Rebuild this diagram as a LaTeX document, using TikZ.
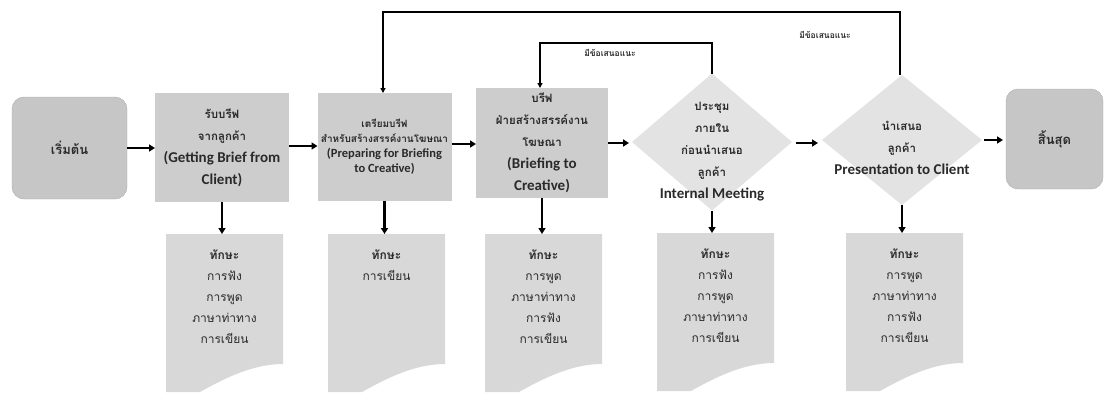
\documentclass[tikz,border=0pt]{standalone}
\usepackage{fontspec}
\setmainfont{Carlito}
\newfontfamily\thai[Script=Thai]{Loma}
\newfontfamily\latin{Carlito}
\usetikzlibrary{shapes.geometric,arrows.meta,calc}
\definecolor{termgray}{HTML}{C6C6C6}
\definecolor{procgray}{HTML}{CDCDCD}
\definecolor{decgray}{HTML}{E3E3E3}
\definecolor{docgray}{HTML}{D8D8D8}
\definecolor{textgray}{HTML}{2A2A2A}
\newcommand\drawdoc[1]{%
  \path (#1.north west) coordinate (#1nw) (#1.north east) coordinate (#1ne)
        (#1.south east) coordinate (#1se) (#1.south west) coordinate (#1sw);
  \fill[docgray] (#1nw) -- (#1ne) -- ($(#1se)+(0,-28)$)
    .. controls ($(#1se)+(-30,-28)$) and ($(#1se)+(-58,-14)$)
    .. ($(#1sw)+(34,0)$) -- (#1sw) -- cycle;}
\newcommand\en[1]{{\latin\bfseries\fontsize{15}{22}\selectfont #1}}
\newcommand\ens[1]{{\latin\bfseries\fontsize{12.5}{15}\selectfont #1}}
\begin{document}
\begin{tikzpicture}[x=1pt,y=-1pt,
  every node/.style={inner sep=0pt, outer sep=0pt},
  termbox/.style={rectangle, rounded corners=12pt, fill=termgray, draw=termgray!88!black, line width=0.4pt},
  procbox/.style={rectangle, fill=procgray},
  decbox/.style={diamond, fill=decgray},
  docbox/.style={rectangle, minimum width=117pt, minimum height=158pt},
  txt/.style={align=center, font=\fontsize{11.5}{22}\selectfont\bfseries\thai, text=textgray},
  termtxt/.style={align=center, font=\fontsize{13}{22}\selectfont\bfseries\thai, text=textgray},
  smalltxt/.style={align=center, font=\fontsize{10}{15}\selectfont\bfseries\thai, text=textgray},
  doctxt/.style={align=center, font=\fontsize{12}{21}\selectfont\thai, text=textgray},
  lbl/.style={font=\fontsize{8.5}{11}\selectfont\bfseries\thai, text=textgray},
  flow/.style={-{Triangle[length=6pt,width=7pt]}, line width=2.4pt},
  loopline/.style={-{Triangle[length=5pt,width=5pt]}, line width=1.3pt},
]
\useasboundingbox (0,0) rectangle (1113,394);

% main flow nodes
\node[termbox, minimum width=115pt, minimum height=102pt] (start) at (69.5,148) {};
\node[termtxt] (startt) at (start) {เริ่มต้น};

\node[procbox, minimum width=134pt, minimum height=109pt] (b1) at (222,147.5) {};
\node[txt] (b1t) at (b1) {รับบรีฟ\\จากลูกค้า\\\en{(Getting Brief from}\\\en{Client)}};

\node[procbox, minimum width=134pt, minimum height=108pt] (b2) at (384.5,147) {};
\node[smalltxt] (b2t) at (b2) {เตรียมบรีฟ\\สำหรับสร้างสรรค์งานโฆษณา\\\ens{(Preparing for Briefing}\\\ens{to Creative)}};

\node[procbox, minimum width=132pt, minimum height=110pt] (b3) at (542,143) {};
\node[txt] (b3t) at (b3) {บรีฟ\\ฝ่ายสร้างสรรค์งาน\\โฆษณา\\\en{(Briefing to}\\\en{Creative)}};

\node[decbox, minimum width=160pt, minimum height=137pt] (d1) at (712,142) {};
\node[txt] (d1t) at (712,152) {ประชุม\\ภายใน\\ก่อนนำเสนอ\\ลูกค้า\\\en{Internal Meeting}};

\node[decbox, minimum width=160pt, minimum height=130pt] (d2) at (902,140) {};
\node[txt] (d2t) at (902,148) {นำเสนอ\\ลูกค้า\\\en{Presentation to Client}};

\node[termbox, minimum width=97pt, minimum height=100pt] (end) at (1054.5,139) {};
\node[termtxt] (endt) at (end) {สิ้นสุด};

% documents
\node[docbox] (doc1) at (224.5,313) {};
\node[docbox] (doc2) at (386.5,313) {};
\node[docbox] (doc3) at (543.5,313) {};
\node[docbox] (doc4) at (715.5,312) {};
\node[docbox] (doc5) at (904.5,312) {};
\drawdoc{doc1}\drawdoc{doc2}\drawdoc{doc3}\drawdoc{doc4}\drawdoc{doc5}
\node[doctxt, anchor=north] (doc1t) at ([yshift=-16pt]doc1.north) {\textbf{ทักษะ}\\การฟัง\\การพูด\\ภาษาท่าทาง\\การเขียน};
\node[doctxt, anchor=north] (doc2t) at ([yshift=-16pt]doc2.north) {\textbf{ทักษะ}\\การเขียน};
\node[doctxt, anchor=north] (doc3t) at ([yshift=-16pt]doc3.north) {\textbf{ทักษะ}\\การพูด\\ภาษาท่าทาง\\การฟัง\\การเขียน};
\node[doctxt, anchor=north] (doc4t) at ([yshift=-16pt]doc4.north) {\textbf{ทักษะ}\\การฟัง\\การพูด\\ภาษาท่าทาง\\การเขียน};
\node[doctxt, anchor=north] (doc5t) at ([yshift=-16pt]doc5.north) {\textbf{ทักษะ}\\การพูด\\ภาษาท่าทาง\\การฟัง\\การเขียน};

% horizontal flow arrows
\draw[flow] (start.east) -- (start.east -| b1.west);
\draw[flow] (b1.east |- 0,146) -- (b2.west |- 0,146);
\draw[flow] (b2.east |- 0,144) -- (b3.west |- 0,144);
\draw[flow] (b3.east |- 0,143) -- ([xshift=-3pt]d1.west |- 0,143);
\draw[flow] ([xshift=4pt]d1.east |- 0,143) -- ([xshift=-4pt]d2.west |- 0,143);
\draw[flow] ([xshift=2pt]d2.east |- 0,140) -- ([xshift=-3pt]end.west |- 0,140);

% vertical arrows to documents
\draw[flow] (b1.south) -- (b1.south |- doc1.north);
\draw[flow] (b2.south) -- (b2.south |- doc2.north);
\draw[flow] (b3.south) -- (b3.south |- doc3.north);
\draw[flow] (d1.south) -- (d1.south |- doc4.north);
\draw[flow] (d2.south) -- (d2.south |- doc5.north);

% feedback loops
\coordinate (l1a) at (712,43);
\coordinate (l1b) at (540,43);
\coordinate (l2a) at (900,12);
\coordinate (l2b) at (383,12);
\draw[loopline] (d1.north) -- (l1a) -- (l1b) -- (l1b |- b3.north);
\draw[loopline] (d2.north -| l2a) -- (l2a) -- (l2b) -- (l2b |- b2.north);
\node[lbl] (fb1) at (610,53) {มีข้อเสนอแนะ};
\node[lbl] (fb2) at (825,35) {มีข้อเสนอแนะ};
\end{tikzpicture}
\end{document}
